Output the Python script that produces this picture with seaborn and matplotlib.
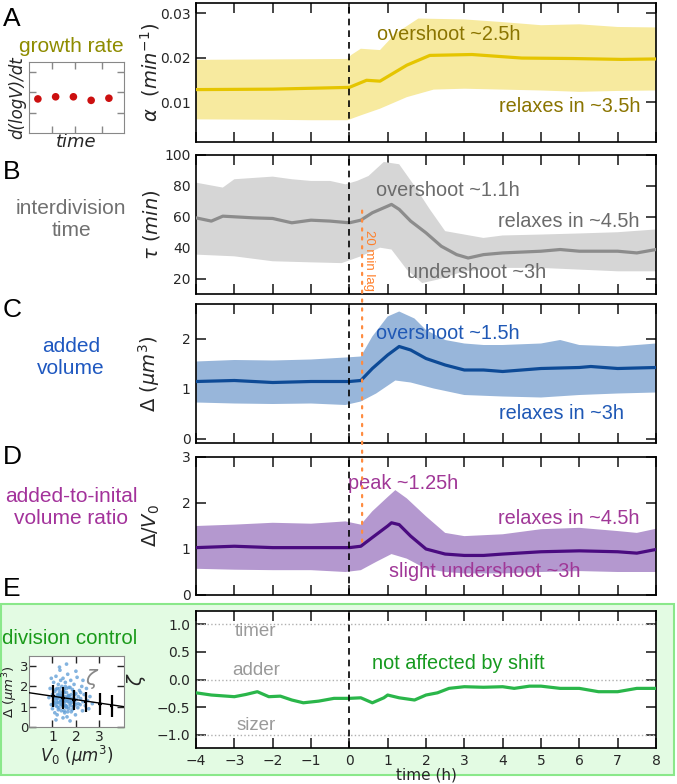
import numpy as np
import pandas as pd
import matplotlib.pyplot as plt
import seaborn as sns
from matplotlib.patches import Rectangle, ConnectionPatch

# --- DATA ---
hours = list(range(-4, 9))

# A: growth rate alpha (1/min)
a_t = [-4, -2, 0, 0.45, 0.8, 1.5, 2.1, 3.2, 4.5, 5.8, 7.1, 8]
a_mean = [0.0128, 0.0129, 0.0133, 0.0149, 0.0147, 0.0183, 0.0205, 0.0207, 0.0199, 0.0198, 0.0196, 0.0197]
a_hi_t = [-4, -2, -0.05, 0.05, 0.3, 0.8, 1.2, 1.8, 3.0, 4.0, 5.0, 6.0, 7.0, 8.0]
a_hi = [0.0195, 0.0196, 0.0197, 0.0206, 0.0220, 0.0217, 0.0254, 0.0288, 0.0286, 0.0280, 0.0273, 0.0275, 0.0269, 0.0268]
a_lo_t = [-4, -2, -1, -0.05, 0.3, 0.8, 1.5, 2.2, 3.0, 5.0, 6.0, 7.0, 8.0]
a_lo = [0.0061, 0.0060, 0.0059, 0.0059, 0.0070, 0.0085, 0.0111, 0.0128, 0.0130, 0.0126, 0.0123, 0.0125, 0.0126]

# B: interdivision time tau (min)
b_t = [-4, -3.6, -3.3, -2.5, -2, -1.5, -1, -0.5, 0, 0.3, 0.6, 1.0, 1.1, 1.3, 1.6, 2.0, 2.4, 2.8, 3.1,
       3.5, 4.0, 5.0, 5.5, 6.0, 7.0, 7.5, 8.0]
b_mean = [59.3, 57.2, 60.4, 59.3, 58.9, 56.1, 57.8, 57.2, 56.1, 57.8, 62.6, 66.9, 68.0, 64.8, 57.2, 49.6,
          40.9, 35.5, 33.3, 35.5, 36.6, 37.7, 38.8, 37.7, 37.7, 36.6, 38.8]
b_hi_t = [-4, -3.3, -3, -2, -1.5, -1, -0.5, -0.1, 0.2, 0.5, 0.9, 1.3, 1.7, 2.1, 2.5, 3.0, 3.5, 4.0, 5, 6, 7, 8]
b_hi = [82.1, 78.9, 84.3, 86.0, 84.3, 83.2, 83.2, 81.0, 83.2, 86.4, 95.5, 94.0, 80.0, 64.8, 50.7, 48.5,
        46.3, 47.9, 48.5, 49.2, 50.0, 51.8]
b_lo_t = [-4, -3, -2, -1, -0.2, 0.3, 0.8, 1.1, 1.5, 1.9, 2.3, 3, 4, 5, 6, 7, 8]
b_lo = [35.5, 34.4, 31.2, 30.5, 30.0, 34.4, 40.0, 38.8, 25.8, 17.1, 19.3, 24.7, 26.9, 26.9, 25.8, 24.7, 24.7]

# C: added volume Delta (um^3)
c_t = [-4, -3, -2, -1, 0, 0.3, 0.6, 1.0, 1.3, 1.6, 2.0, 2.5, 3.0, 3.5, 4.0, 4.5, 5, 6, 6.3, 7, 8]
c_mean = [1.15, 1.17, 1.13, 1.15, 1.15, 1.17, 1.41, 1.68, 1.85, 1.78, 1.61, 1.48, 1.38, 1.38, 1.35, 1.38,
          1.41, 1.43, 1.45, 1.41, 1.43]
c_hi_t = [-4, -3, -2, -1, -0.1, 0.3, 0.6, 1.0, 1.3, 1.7, 2.0, 2.5, 3.0, 3.5, 4, 5, 5.5, 6, 7, 8]
c_hi = [1.55, 1.58, 1.57, 1.59, 1.63, 1.65, 2.05, 2.45, 2.55, 2.41, 2.18, 1.98, 1.91, 1.88, 1.88, 1.91,
        1.98, 1.88, 1.85, 1.91]
c_lo_t = [-4, -3, -2, -1, -0.1, 0.3, 0.7, 1.2, 1.6, 2.2, 3, 4, 5, 6, 7, 8]
c_lo = [0.73, 0.71, 0.70, 0.71, 0.68, 0.75, 0.91, 1.17, 1.13, 1.01, 0.88, 0.85, 0.83, 0.88, 0.91, 0.93]

# D: added-to-initial volume ratio
d_t = [-4, -3, -2, -1, 0, 0.3, 0.6, 1.0, 1.1, 1.3, 1.6, 2.0, 2.5, 3.0, 3.5, 4, 5, 6, 7, 7.5, 8]
d_mean = [1.03, 1.06, 1.03, 1.03, 1.03, 1.06, 1.25, 1.50, 1.57, 1.53, 1.28, 1.00, 0.89, 0.86, 0.86, 0.89,
          0.94, 0.96, 0.94, 0.91, 0.99]
d_hi_t = [-4, -3, -2, -1, -0.1, 0.3, 0.6, 1.0, 1.2, 1.5, 2.0, 2.5, 3, 4, 5, 6, 7, 7.5, 8]
d_hi = [1.50, 1.53, 1.57, 1.55, 1.60, 1.53, 1.82, 2.13, 2.28, 2.10, 1.71, 1.35, 1.28, 1.32, 1.43, 1.46,
        1.39, 1.35, 1.44]
d_lo_t = [-4, -3, -2, -1, -0.1, 0.3, 0.7, 1.1, 1.5, 2, 2.5, 3, 4, 5, 6, 7, 8]
d_lo = [0.57, 0.55, 0.54, 0.54, 0.50, 0.54, 0.72, 0.89, 0.79, 0.57, 0.50, 0.47, 0.47, 0.50, 0.52, 0.50, 0.50]

# E: division control zeta
e_t = [-4, -3.6, -3, -2.7, -2.4, -2.1, -1.8, -1.5, -1.2, -0.8, -0.4, 0, 0.3, 0.6, 0.9, 1.0, 1.3, 1.7,
       2.0, 2.3, 2.6, 3.0, 3.5, 4.0, 4.3, 4.7, 5.0, 5.5, 6.0, 6.5, 7.0, 7.5, 8.0]
e_zeta = [-0.24, -0.28, -0.31, -0.27, -0.22, -0.31, -0.30, -0.37, -0.42, -0.39, -0.34, -0.34, -0.33,
          -0.42, -0.33, -0.28, -0.33, -0.37, -0.28, -0.24, -0.16, -0.13, -0.14, -0.13, -0.16, -0.12,
          -0.12, -0.16, -0.16, -0.22, -0.22, -0.16, -0.16]
regimes = ['timer', 'adder', 'sizer']
regime_levels = [1.0, 0.0, -1.0]

# inset A: growth rate over time (sketch)
inset_time = [1, 2, 3, 4, 5]
inset_growth = [0.48, 0.51, 0.51, 0.46, 0.49]

# inset E: added volume vs initial volume
v0_cells = [0.85, 0.9, 0.95, 1.0, 1.0, 1.05, 1.05, 1.1, 1.1, 1.12, 1.15, 1.15, 1.18, 1.2, 1.2, 1.22, 1.25,
            1.25, 1.28, 1.3, 1.3, 1.32, 1.35, 1.35, 1.38, 1.4, 1.4, 1.42, 1.45, 1.45, 1.48, 1.5, 1.5, 1.52,
            1.55, 1.55, 1.58, 1.6, 1.6, 1.62, 1.65, 1.65, 1.68, 1.7, 1.7, 1.72, 1.75, 1.78, 1.8, 1.8, 1.82,
            1.85, 1.88, 1.9, 1.92, 1.95, 1.98, 2.0, 2.02, 2.05, 2.08, 2.1, 2.15, 2.18, 2.2, 2.25, 2.28, 2.3,
            2.35, 2.4, 2.45, 2.5, 2.55, 2.6, 2.7, 1.3, 1.45, 1.6, 1.15, 2.0, 0.95, 1.75, 2.3, 1.05, 1.25,
            1.35, 1.55, 1.7, 1.9, 1.4, 1.6, 1.2,
            1.1, 1.2, 1.3, 1.4, 1.5, 1.6, 1.7, 1.8, 1.9, 2.0, 1.15, 1.25, 1.35, 1.45, 1.55, 1.65, 1.75, 1.85,
            1.95, 2.1, 1.05, 1.3, 1.5, 1.7, 1.9, 1.2, 1.4, 1.6, 1.8, 2.2, 1.35, 1.55, 1.75, 1.45, 1.65]
delta_cells = [1.45, 1.9, 1.1, 1.6, 0.9, 2.2, 1.3, 1.75, 0.7, 1.5, 2.5, 1.05, 1.35, 1.9, 0.6, 1.6, 1.2,
               2.1, 0.95, 1.45, 1.75, 2.8, 1.1, 1.55, 0.8, 1.3, 2.0, 1.65, 1.0, 2.4, 1.4, 1.2, 1.85, 0.7,
               1.5, 2.2, 1.05, 1.35, 1.7, 0.5, 1.25, 2.6, 1.55, 0.9, 1.95, 1.4, 1.15, 2.3, 1.6, 0.75, 1.3,
               1.85, 1.0, 1.45, 2.1, 1.2, 0.6, 1.65, 1.35, 2.45, 0.95, 1.5, 1.8, 1.1, 1.4, 2.0, 0.8, 1.25,
               1.6, 1.05, 1.9, 1.3, 0.9, 1.5, 1.15, 2.95, 0.45, 3.1, 0.35, 2.75, 2.4, 0.3, 2.3, 1.45, 1.55,
               1.25, 1.3, 1.25, 1.3, 1.5, 1.0, 1.2,
               1.2, 1.0, 1.6, 1.1, 1.7, 0.95, 1.5, 1.2, 1.75, 1.1, 1.85, 0.85, 1.3, 1.75, 1.05, 1.45, 1.95,
               0.85, 1.6, 1.15, 1.15, 1.9, 0.8, 1.55, 1.0, 1.4, 1.45, 1.9, 1.4, 1.7, 2.3, 2.0, 1.05, 1.25, 0.75]
bin_v0 = [1.03, 1.46, 1.91, 2.41, 3.02, 3.52]
bin_delta = [1.53, 1.45, 1.33, 1.25, 1.12, 1.04]
bin_err = [0.54, 0.54, 0.49, 0.50, 0.54, 0.54]
fit_coef = (1.69, -0.17)  # intercept, slope

lag_h = 1 / 3  # 20 min lag

# --- STYLE ---
sns.set_style("ticks")
plt.rcParams['font.family'] = ['DejaVu Sans']
ANN = 'Liberation Sans'
W, H = 677, 784


def box(l, t, r, b):
    return [l / W, 1 - b / H, (r - l) / W, (b - t) / H]


def ftext(x, y, s, **kw):
    kw.setdefault('family', ANN)
    fig.text(x / W, 1 - y / H, s, ha='center', va='center', **kw)


fig = plt.figure(figsize=(W / 100, H / 100), dpi=100)

fig.add_artist(Rectangle((1 / W, 1 - 775 / H), 673 / W, (775 - 604) / H, transform=fig.transFigure,
                         facecolor='#e3fbe3', edgecolor='#8ae88a', lw=1.5, zorder=-1))


def style_main(ax, ylim, yticks, ylabel, label_x=-0.074, show_x=False):
    ax.set_xlim(-4, 8)
    ax.set_ylim(*ylim)
    ax.set_xticks(hours)
    ax.set_yticks(yticks)
    ax.tick_params(direction='in', top=True, right=True, length=7, width=1.2, labelsize=10,
                   labelbottom=show_x, pad=4)
    ax.axvline(0, color='k', ls=(0, (4, 3)), lw=1.2, zorder=4)
    ax.set_xlabel('')
    ax.set_ylabel(ylabel, fontsize=14)
    ax.yaxis.set_label_coords(label_x, 0.5)
    for s in ax.spines.values():
        s.set_linewidth(1.2)
        s.set_color('k')


def draw_panel(ax, t, m, hi_t, hi, lo_t, lo, line_c, band_c):
    ax.fill(np.r_[hi_t, lo_t[::-1]], np.r_[hi, lo[::-1]], color=band_c, lw=0, zorder=1)
    sns.lineplot(x=t, y=m, ax=ax, color=line_c, lw=2.3, estimator=None, sort=False, zorder=3)


axA = fig.add_axes(box(196, 3, 656, 142))
axB = fig.add_axes(box(196, 155, 656, 294))
axC = fig.add_axes(box(196, 304, 656, 443))
axD = fig.add_axes(box(196, 457, 656, 595))
axE = fig.add_axes(box(196, 611, 656, 748))
axE.set_facecolor('white')

# A
draw_panel(axA, a_t, a_mean, a_hi_t, a_hi, a_lo_t, a_lo, '#e5c500', '#f7ea9f')
style_main(axA, (0.001, 0.0323), [0.01, 0.02, 0.03], r'$\alpha\ \ (min^{-1})$')
axA.text(2.6, 0.0251, 'overshoot ~2.5h', color='#8a7400', fontsize=14.3, family=ANN, ha='center', va='center')
axA.text(5.76, 0.0089, 'relaxes in ~3.5h', color='#8a7400', fontsize=14.3, family=ANN, ha='center', va='center')

# B
draw_panel(axB, b_t, b_mean, b_hi_t, b_hi, b_lo_t, b_lo, '#8c8c8c', '#d6d6d6')
style_main(axB, (10, 100), [20, 40, 60, 80, 100], r'$\tau\ (min)$')
axB.text(2.58, 76.7, 'overshoot ~1.1h', color='#6b6b6b', fontsize=14.3, family=ANN, ha='center', va='center')
axB.text(5.73, 57.2, 'relaxes in ~4.5h', color='#6b6b6b', fontsize=14.3, family=ANN, ha='center', va='center')
axB.text(3.33, 23.6, 'undershoot ~3h', color='#6b6b6b', fontsize=14.3, family=ANN, ha='center', va='center')
axB.text(0.52, 31.5, '20 min lag', color='#ff7f2a', fontsize=9.5, family=ANN, rotation=270,
         ha='center', va='center')

# C
draw_panel(axC, c_t, c_mean, c_hi_t, c_hi, c_lo_t, c_lo, '#0d4a96', '#98b6da')
style_main(axC, (-0.08, 2.7), [0, 1, 2], r'$\Delta\ (\mu m^3)$')
axC.text(2.58, 2.11, 'overshoot ~1.5h', color='#1f58b5', fontsize=14.3, family=ANN, ha='center', va='center')
axC.text(5.54, 0.51, 'relaxes in ~3h', color='#1f58b5', fontsize=14.3, family=ANN, ha='center', va='center')

# D
draw_panel(axD, d_t, d_mean, d_hi_t, d_hi, d_lo_t, d_lo, '#4a0b80', '#b498cf')
style_main(axD, (0, 3), [0, 1, 2, 3], r'$\Delta/V_0$')
axD.text(1.40, 2.42, 'peak ~1.25h', color='#a03797', fontsize=14.3, family=ANN, ha='center', va='center')
axD.text(5.73, 1.67, 'relaxes in ~4.5h', color='#a03797', fontsize=14.3, family=ANN, ha='center', va='center')
axD.text(3.54, 0.52, 'slight undershoot ~3h', color='#a03797', fontsize=14.3, family=ANN,
         ha='center', va='center')

# E
for lvl in regime_levels:
    axE.axhline(lvl, color='#b0b0b0', ls=':', lw=1, zorder=1)
sns.lineplot(x=e_t, y=e_zeta, ax=axE, color='#2ab64a', lw=2.3, estimator=None, sort=False, zorder=3)
style_main(axE, (-1.235, 1.235), [-1, -0.5, 0, 0.5, 1], r'$\zeta$', label_x=-0.105, show_x=True)
axE.set_xlabel('time (h)', fontsize=11)
axE.xaxis.set_label_coords(0.5, -0.14)
for name, lvl in zip(regimes, [0.86, 0.17, -0.83]):
    axE.text(-2.44, lvl, name, color='#9a9a9a', fontsize=13.5, family=ANN, ha='center', va='center')
axE.text(2.84, 0.28, 'not affected by shift', color='#169a1f', fontsize=14.3, family=ANN,
         ha='center', va='center')

# 20 min lag marker across panels B-D
fig.add_artist(ConnectionPatch(xyA=(lag_h, 64), coordsA=axB.transData, xyB=(lag_h, 1.05),
                               coordsB=axD.transData, color='#ff8c40', ls=(0, (1, 3)), lw=1.6, zorder=5))

# inset A
axIA = fig.add_axes(box(29, 62, 124, 133))
sns.scatterplot(x=inset_time, y=inset_growth, ax=axIA, color='#cc1010', s=30, edgecolor='none', zorder=3)
axIA.set_xlim(0.5, 5.85)
axIA.set_ylim(0, 1)
axIA.set_xticks([1.8, 3.1, 4.6])
axIA.set_yticks([0.28, 0.58, 0.86])
axIA.tick_params(direction='in', top=True, right=True, length=5, width=1, colors='#888888',
                 labelbottom=False, labelleft=False)
for s in axIA.spines.values():
    s.set_color('#888888')
axIA.set_xlabel('time', fontsize=13, style='italic', labelpad=0)
axIA.set_ylabel('d(logV)/dt', fontsize=12, style='italic', labelpad=2)

# inset E
axIE = fig.add_axes(box(29, 656, 124, 727))
axIE.set_facecolor('white')
sns.scatterplot(x=v0_cells, y=delta_cells, ax=axIE, color='#5b9bd5', s=7, alpha=0.75, edgecolor='none', zorder=2)
fit_x = np.array([0, 4.05])
sns.lineplot(x=fit_x, y=fit_coef[0] + fit_coef[1] * fit_x, ax=axIE, color='k', lw=1, zorder=3)
axIE.errorbar(bin_v0, bin_delta, yerr=bin_err, xerr=0.08, fmt='none', ecolor='k', elinewidth=1.6, zorder=4)
axIE.text(2.7, 2.36, r'$\zeta$', color='#888888', fontsize=15, ha='center', va='center')
axIE.set_xlim(0, 4.05)
axIE.set_ylim(0, 3.5)
axIE.set_xticks([1, 2, 3])
axIE.set_yticks([0, 1, 2, 3])
axIE.tick_params(direction='in', top=True, right=True, length=5, width=1, labelsize=10)
axIE.tick_params(axis='y', pad=0.5, labelsize=9.5)
axIE.tick_params(axis='x', pad=2)
for s in axIE.spines.values():
    s.set_color('#888888')
axIE.set_xlabel(r'$V_0\ (\mu m^3)$', fontsize=12, labelpad=0)
axIE.set_ylabel(r'$\Delta\ (\mu m^3)$', fontsize=9.5)
axIE.yaxis.set_label_coords(-0.1, 0.5)

# panel letters and descriptions
for letter, y in zip('ABCDE', [19, 172, 310, 457, 589]):
    ftext(12, y, letter, fontsize=19, color='k')
ftext(71, 47, 'growth rate', fontsize=15, color='#8e8c00')
ftext(71, 219, 'interdivision\ntime', fontsize=15, color='#707070', linespacing=1.2)
ftext(71, 358, 'added\nvolume', fontsize=15, color='#1f58c0', linespacing=1.2)
ftext(71, 508, 'added-to-inital\nvolume ratio', fontsize=15, color='#a3329b', linespacing=1.2)
ftext(70, 638, 'division control', fontsize=14.8, color='#1a9a1a')

fig.savefig('out.png', dpi=100)
